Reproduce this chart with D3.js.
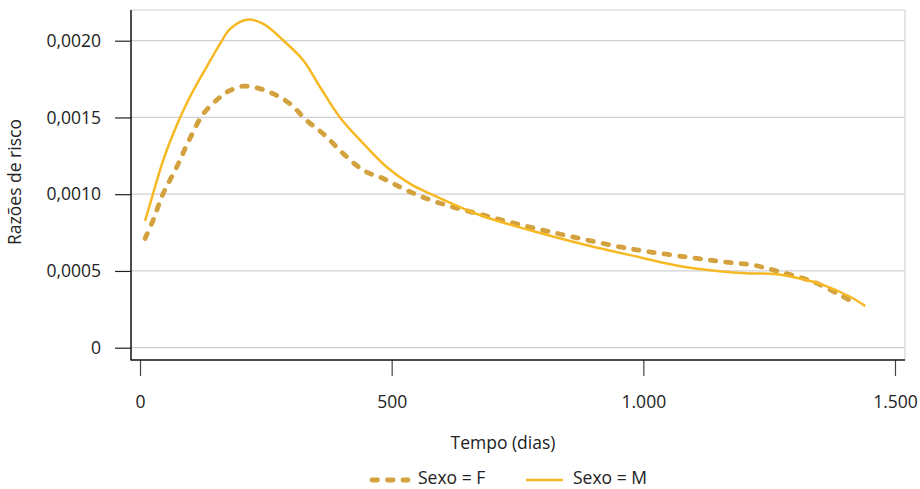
<!DOCTYPE html>
<html>
<head>
<meta charset="utf-8">
<script src="https://cdn.jsdelivr.net/npm/d3@7"></script>
<style>
  html, body { margin: 0; padding: 0; background: #fff; }
  svg { display: block; font-family: "Open Sans", "Noto Sans", sans-serif; }
</style>
</head>
<body>
<svg id="chart" width="920" height="489"></svg>
<script>
// Smoothed hazard estimates by sex (time in days, hazard ratio)
const timeF = [10, 26, 46, 73, 99, 126, 159, 179, 205, 232, 265, 298, 331, 364, 404, 444, 484, 530, 589, 676, 768, 854, 947, 1013, 1093, 1159, 1218, 1278, 1338, 1391, 1421];
const hazardF = [0.000711, 0.00083, 0.001004, 0.001177, 0.001362, 0.001524, 0.001632, 0.001676, 0.001704, 0.001693, 0.001654, 0.001589, 0.001481, 0.001394, 0.001264, 0.001155, 0.001101, 0.001025, 0.000949, 0.000869, 0.000791, 0.000726, 0.000661, 0.000624, 0.000588, 0.000559, 0.000538, 0.000488, 0.000429, 0.000343, 0.000289];

const timeM = [10, 26, 46, 66, 86, 106, 132, 159, 179, 212, 245, 285, 325, 358, 397, 444, 490, 536, 576, 676, 775, 874, 974, 1080, 1146, 1212, 1265, 1311, 1358, 1411, 1441];
const hazardM = [0.000826, 0.001004, 0.00122, 0.001394, 0.001545, 0.001676, 0.001827, 0.001979, 0.002077, 0.002137, 0.00211, 0.002001, 0.00187, 0.001697, 0.001502, 0.001329, 0.001177, 0.001069, 0.001004, 0.000863, 0.000765, 0.000679, 0.000603, 0.000527, 0.0005, 0.000484, 0.000479, 0.000451, 0.000408, 0.000332, 0.000271];

const xTicks = [0, 500, 1000, 1500];
const xTickLabels = ["0", "500", "1.000", "1.500"];
const yTicks = [0, 0.0005, 0.001, 0.0015, 0.002];
const yTickLabels = ["0", "0,0005", "0,0010", "0,0015", "0,0020"];
const seriesNames = ["Sexo = F", "Sexo = M"];

const colorF = "#d3a13d";
const colorM = "#f6b924";
const fontSize = 17.5;
const textColor = "#222";

const svg = d3.select("#chart");
const panel = { left: 131, right: 905, top: 10, bottom: 360 };

const x = d3.scaleLinear().domain([0, 1500]).range([140, 895]);
const y = d3.scaleLinear().domain([0, 0.002]).range([347.7, 40.7]);

// gridlines
svg.append("g").selectAll("line").data(yTicks).join("line")
  .attr("x1", panel.left).attr("x2", panel.right)
  .attr("y1", d => y(d)).attr("y2", d => y(d))
  .attr("stroke", "#cfcfcf").attr("stroke-width", 1.2);

// panel frame: light top/right, dark left/bottom
svg.append("line").attr("x1", panel.left).attr("x2", panel.right)
  .attr("y1", panel.top).attr("y2", panel.top).attr("stroke", "#d4d4d4").attr("stroke-width", 1.2);
svg.append("line").attr("x1", panel.right).attr("x2", panel.right)
  .attr("y1", panel.top).attr("y2", panel.bottom).attr("stroke", "#d4d4d4").attr("stroke-width", 1.2);

// y axis
const yAxis = d3.axisLeft(y).tickValues(yTicks).tickSize(16).tickPadding(14)
  .tickFormat((d, i) => yTickLabels[i]);
const gy = svg.append("g").attr("transform", `translate(${panel.left},0)`).call(yAxis);
gy.select(".domain").remove();
gy.selectAll(".tick line").attr("stroke", "#222").attr("stroke-width", 1.2);
gy.selectAll(".tick text").attr("font-size", fontSize).attr("fill", textColor)
  .attr("font-family", "'Open Sans', sans-serif");
svg.append("line").attr("x1", panel.left).attr("x2", panel.left)
  .attr("y1", panel.top).attr("y2", panel.bottom + 0.6).attr("stroke", "#111").attr("stroke-width", 1.5);

// x axis
const xAxis = d3.axisBottom(x).tickValues(xTicks).tickSize(16).tickPadding(20)
  .tickFormat((d, i) => xTickLabels[i]);
const gx = svg.append("g").attr("transform", `translate(0,${panel.bottom})`).call(xAxis);
gx.select(".domain").remove();
gx.selectAll(".tick line").attr("stroke", "#444").attr("stroke-width", 1.2);
gx.selectAll(".tick text").attr("font-size", fontSize).attr("fill", textColor)
  .attr("font-family", "'Open Sans', sans-serif");
svg.append("line").attr("x1", panel.left).attr("x2", panel.right)
  .attr("y1", panel.bottom).attr("y2", panel.bottom).attr("stroke", "#111").attr("stroke-width", 1.5);

// axis titles
svg.append("text").attr("x", 503).attr("y", 444).attr("text-anchor", "middle")
  .attr("dominant-baseline", "middle").attr("font-size", fontSize).attr("fill", textColor)
  .text("Tempo (dias)");
svg.append("text").attr("transform", "translate(16,182) rotate(-90)").attr("text-anchor", "middle")
  .attr("dominant-baseline", "middle").attr("font-size", fontSize).attr("fill", textColor)
  .text("Razões de risco");

// curves
const line = d3.line().x(d => x(d[0])).y(d => y(d[1])).curve(d3.curveCatmullRom.alpha(0.5));
const dataF = timeF.map((t, i) => [t, hazardF[i]]);
const dataM = timeM.map((t, i) => [t, hazardM[i]]);

svg.append("path").datum(dataF).attr("d", line).attr("fill", "none")
  .attr("stroke", colorF).attr("stroke-width", 4.8).attr("stroke-linecap", "round")
  .attr("stroke-dasharray", "5.5,10");
svg.append("path").datum(dataM).attr("d", line).attr("fill", "none")
  .attr("stroke", colorM).attr("stroke-width", 2.5);

// legend
const legY = 479;
const leg = svg.append("g");
leg.append("line").attr("x1", 372).attr("x2", 408).attr("y1", legY + 1).attr("y2", legY + 1)
  .attr("stroke", colorF).attr("stroke-width", 4.8).attr("stroke-linecap", "round")
  .attr("stroke-dasharray", "5.5,10");
leg.append("text").attr("x", 418).attr("y", legY).attr("dominant-baseline", "middle")
  .attr("font-size", fontSize).attr("fill", textColor).text(seriesNames[0]);
leg.append("line").attr("x1", 526).attr("x2", 563).attr("y1", legY + 1).attr("y2", legY + 1)
  .attr("stroke", colorM).attr("stroke-width", 2.5);
leg.append("text").attr("x", 573).attr("y", legY).attr("dominant-baseline", "middle")
  .attr("font-size", fontSize).attr("fill", textColor).text(seriesNames[1]);
</script>
</body>
</html>
